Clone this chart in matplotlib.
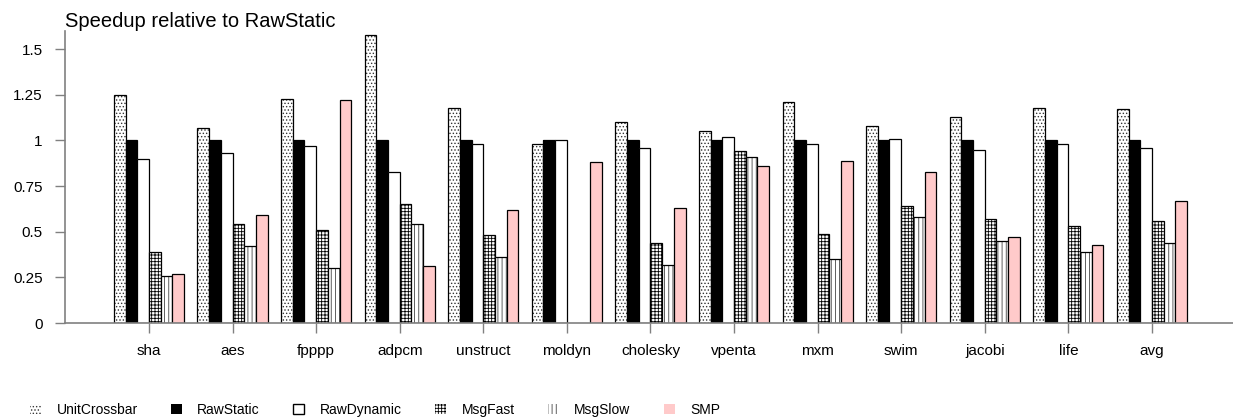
import matplotlib
matplotlib.use("Agg")
import matplotlib.pyplot as plt
from matplotlib.patches import Patch
import numpy as np

plt.rcParams['font.family'] = ['Liberation Sans', 'DejaVu Sans']
plt.rcParams['hatch.linewidth'] = 0.6

benchmarks = ["sha", "aes", "fpppp", "adpcm", "unstruct", "moldyn", "cholesky",
              "vpenta", "mxm", "swim", "jacobi", "life", "avg"]
series = ["UnitCrossbar", "RawStatic", "RawDynamic", "MsgFast", "MsgSlow", "SMP"]

unit_crossbar = [1.25, 1.07, 1.23, 1.58, 1.18, 0.98, 1.10, 1.05, 1.21, 1.08, 1.13, 1.18, 1.17]
raw_static = [1.0] * 13
raw_dynamic = [0.90, 0.93, 0.97, 0.83, 0.98, 1.00, 0.96, 1.02, 0.98, 1.01, 0.95, 0.98, 0.96]
msg_fast = [0.39, 0.54, 0.51, 0.65, 0.48, np.nan, 0.44, 0.94, 0.49, 0.64, 0.57, 0.53, 0.56]
msg_slow = [0.26, 0.42, 0.30, 0.54, 0.36, np.nan, 0.32, 0.91, 0.35, 0.58, 0.45, 0.39, 0.44]
smp = [0.27, 0.59, 1.22, 0.31, 0.62, 0.88, 0.63, 0.86, 0.89, 0.83, 0.47, 0.43, 0.67]

yticks = [0, 0.25, 0.5, 0.75, 1, 1.25, 1.5]
ytick_labels = ["0", "0.25", "0.5", "0.75", "1", "1.25", "1.5"]

# facecolor, hatch, hatch colour
styles = [
    ("white", ".....", "#333333"),
    ("black", None, "black"),
    ("white", None, "black"),
    ("white", "+++++", "black"),
    ("white", "||||", "#444444"),
    ("#ffcaca", None, "black"),
]
data = [unit_crossbar, raw_static, raw_dynamic, msg_fast, msg_slow, smp]

fig = plt.figure(figsize=(12.33, 4.19), dpi=100)
ax = fig.add_axes([65 / 1233, 96 / 419, 1 - 65 / 1233, 292 / 419])

x = np.arange(len(benchmarks))
w = 0.14
for k, (vals, (fc, h, hc)) in enumerate(zip(data, styles)):
    pos = x + (k - 2.5) * w
    ax.bar(pos, vals, w, color=fc, edgecolor=hc, linewidth=0, hatch=h)
    ax.bar(pos, vals, w, fill=False, edgecolor="black", linewidth=0.9)

ax.set_xlim(-1.005, 12.97)
ax.set_ylim(0, 1.6)
ax.set_xticks(x)
ax.set_xticklabels(benchmarks, fontsize=11)
ax.set_yticks(yticks)
ax.set_yticklabels(ytick_labels, fontsize=11)
ax.tick_params(axis="both", color="#808080", length=7, width=1)
ax.tick_params(axis="y", pad=9)
ax.tick_params(axis="x", pad=8)
for s in ["top", "right"]:
    ax.spines[s].set_visible(False)
for s in ["left", "bottom"]:
    ax.spines[s].set_color("#808080")
    ax.spines[s].set_linewidth(1.2)

ax.set_title("Speedup relative to RawStatic", loc="left", fontsize=14.5, pad=2)

handles = []
for (fc, h, hc) in styles:
    if h is not None:
        handles.append(Patch(facecolor=fc, edgecolor=hc, linewidth=0, hatch=h))
    elif fc == "white":
        handles.append(Patch(facecolor=fc, edgecolor="black", linewidth=1))
    else:
        handles.append(Patch(facecolor=fc, edgecolor=fc, linewidth=0))
fig.legend(handles, series, loc="center left", bbox_to_anchor=(30 / 1233, 9 / 419),
           ncol=6, frameon=False, fontsize=10, handlelength=0.8, handleheight=0.8,
           handletextpad=1.1, columnspacing=2.4, borderpad=0, borderaxespad=0)

fig.savefig("out.png", dpi=100)
